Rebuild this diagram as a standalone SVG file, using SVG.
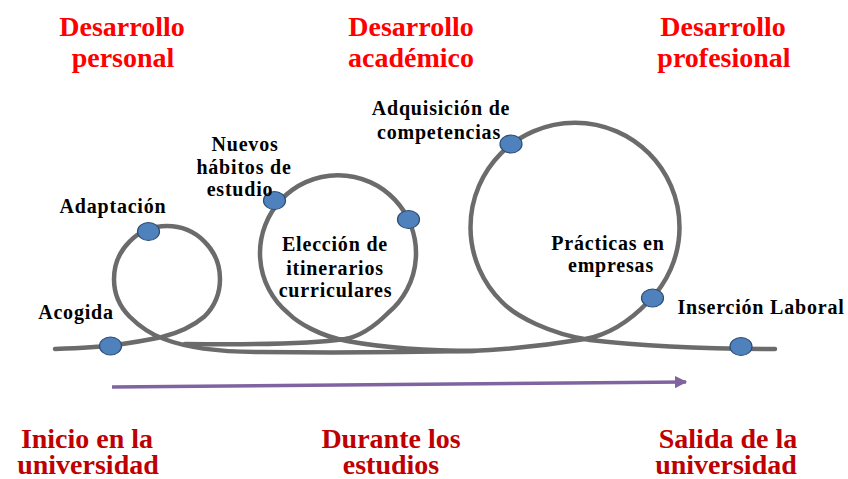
<svg xmlns="http://www.w3.org/2000/svg" width="848" height="479" viewBox="0 0 848 479">
  <style>
    .rope { fill: none; stroke: #6b6b6b; stroke-width: 4.5; stroke-linecap: round; stroke-linejoin: round; }
    .node { fill: #4f81bd; stroke: #2c4d75; stroke-width: 1.2; }
    .lbl { font-weight: bold; font-size: 20px; fill: #000; letter-spacing: 0.8px; text-anchor: middle; }
    .top { font-weight: bold; font-size: 28px; fill: #ff0000; text-anchor: middle; }
    .bot { font-weight: bold; font-size: 28px; fill: #c00000; text-anchor: middle; }
    .arrow { stroke: #8064a2; stroke-width: 3.5; fill: none; }
  </style>
  <defs>
    <marker id="ah" viewBox="0 0 10 10" refX="9" refY="5" markerWidth="3.6" markerHeight="3.6" orient="auto" markerUnits="strokeWidth">
      <path d="M0,0 L10,5 L0,10 Z" fill="#8064a2"/>
    </marker>
  </defs>

  <g id="connectors">
    <path class="rope" d="M55,349 C80,348 100,347 112,345.5 C130,343 148,340 162,337 C178,333 192,327 204.5,316.5 A53 53 0 1 0 129.5,316.5 C139,326 150,334 164,339 C185,347 215,352 260,352 C350,353 420,352 470,351 C520,349 555,344 585,339 C608,335 629,322 648.5,301.5 A104.5 104.5 0 1 0 501.5,301.5 C515,316 550,334 590,340 C650,347 720,349 775,349"/>
    <path class="rope" d="M185,344 C260,345 310,344 345,339 C362,336 378,323 388,313 A78 78 0 1 0 288,313 C298,323 320,336 347,341 C380,347 430,351 475,351"/>
    <path class="arrow" d="M112,387 L686,382" marker-end="url(#ah)"/>
  </g>

  <g id="node-acogida"><ellipse class="node" cx="110.5" cy="346" rx="11" ry="9"/></g>
  <g id="node-adaptacion"><ellipse class="node" cx="148.5" cy="231.5" rx="11" ry="9"/></g>
  <g id="node-habitos"><ellipse class="node" cx="274.5" cy="200.5" rx="11" ry="9"/></g>
  <g id="node-eleccion"><ellipse class="node" cx="408.5" cy="219.5" rx="11" ry="9"/></g>
  <g id="node-competencias"><ellipse class="node" cx="511" cy="144" rx="11" ry="9"/></g>
  <g id="node-practicas"><ellipse class="node" cx="652.5" cy="298" rx="11" ry="9"/></g>
  <g id="node-insercion"><ellipse class="node" cx="741" cy="346.5" rx="11" ry="9"/></g>

  <g id="labels" font-family="'Liberation Serif', 'Times New Roman', 'DejaVu Serif', serif">
    <text class="lbl" x="76" y="318.5">Acogida</text>
    <text class="lbl" x="113" y="213">Adaptación</text>
    <text class="lbl" x="245" y="150.5">Nuevos</text>
    <text class="lbl" x="244" y="173.5">hábitos de</text>
    <text class="lbl" x="240" y="196">estudio</text>
    <text class="lbl" x="335" y="251">Elección de</text>
    <text class="lbl" x="335" y="274.5">itinerarios</text>
    <text class="lbl" x="335.5" y="297">curriculares</text>
    <text class="lbl" x="441" y="115">Adquisición de</text>
    <text class="lbl" x="439" y="139">competencias</text>
    <text class="lbl" x="608" y="249.5">Prácticas en</text>
    <text class="lbl" x="611" y="272">empresas</text>
    <text class="lbl" x="761" y="313.5">Inserción Laboral</text>
  </g>

  <g id="headings-top" font-family="'Liberation Serif', 'Times New Roman', 'DejaVu Serif', serif">
    <text class="top" x="122" y="36">Desarrollo</text>
    <text class="top" x="123" y="67">personal</text>
    <text class="top" x="411" y="36">Desarrollo</text>
    <text class="top" x="411" y="67">académico</text>
    <text class="top" x="723" y="36">Desarrollo</text>
    <text class="top" x="724" y="67">profesional</text>
  </g>

  <g id="headings-bottom" font-family="'Liberation Serif', 'Times New Roman', 'DejaVu Serif', serif">
    <text class="bot" x="87" y="448">Inicio en la</text>
    <text class="bot" x="88" y="474">universidad</text>
    <text class="bot" x="391" y="448">Durante los</text>
    <text class="bot" x="391" y="474">estudios</text>
    <text class="bot" x="728" y="448">Salida de la</text>
    <text class="bot" x="726" y="474">universidad</text>
  </g>
</svg>
